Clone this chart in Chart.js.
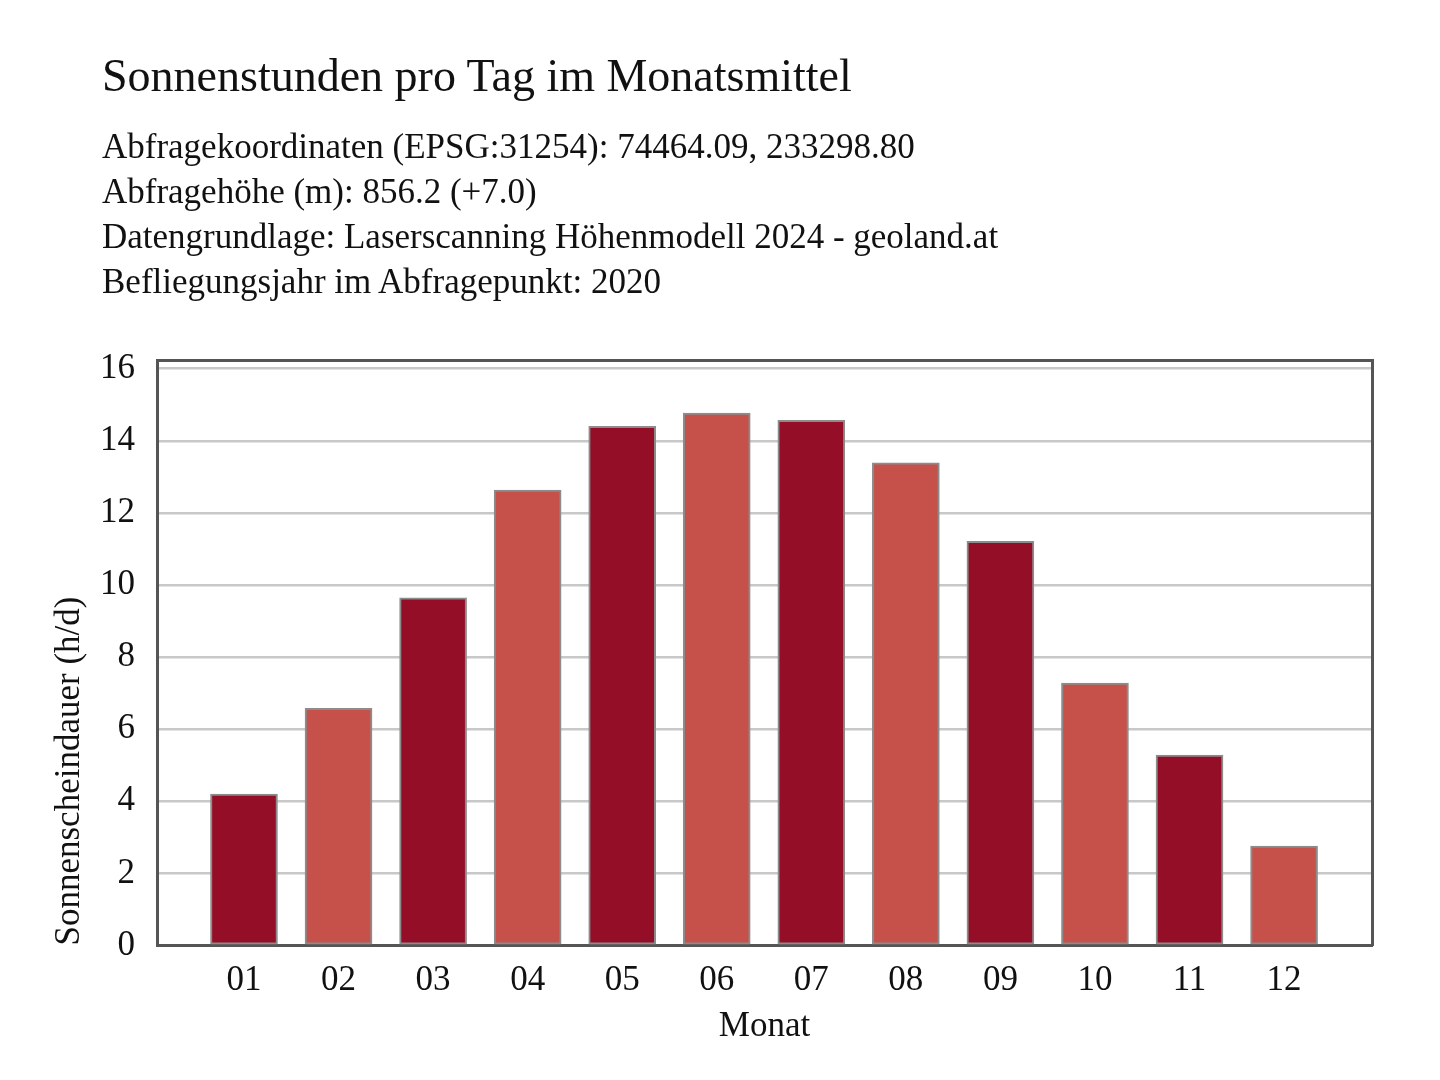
<!DOCTYPE html>
<html>
<head>
<meta charset="utf-8">
<script src="https://cdn.jsdelivr.net/npm/chart.js@4.4.1/dist/chart.umd.min.js"></script>
<style>
  body { margin: 0; background: #fff; }
  #wrap { position: relative; width: 1440px; height: 1080px; }
  #title { position: absolute; left: 102px; top: 53px; font: 46px/46px "Liberation Serif", serif; color: #111; }
  #sub { position: absolute; left: 102px; top: 124px; font: 35px/45px "Liberation Serif", serif; color: #111; }
  canvas { position: absolute; left: 0; top: 0; }
</style>
</head>
<body>
<div id="wrap">
  <canvas id="myChart" width="1440" height="1080"></canvas>
  <div id="title">Sonnenstunden pro Tag im Monatsmittel</div>
  <div id="sub">
    Abfragekoordinaten (EPSG:31254): 74464.09, 233298.80<br>
    Abfragehöhe (m): 856.2 (+7.0)<br>
    Datengrundlage: Laserscanning Höhenmodell 2024 - geoland.at<br>
    Befliegungsjahr im Abfragepunkt: 2020
  </div>
</div>
<script>
// monthly mean sunshine hours per day
const months = ["01","02","03","04","05","06","07","08","09","10","11","12"];
const sunHours = [4.20, 6.58, 9.64, 12.63, 14.40, 14.77, 14.57, 13.39, 11.21, 7.28, 5.28, 2.76];
const yTicks = [0, 2, 4, 6, 8, 10, 12, 14, 16];
const barColors = ['#930E26', '#C6514A'];

const serif = "'Liberation Serif', 'Times New Roman', serif";

var ctx = document.getElementById('myChart').getContext('2d');
var myChart = new Chart(ctx, {
    type: 'bar',
    data: {
        datasets: [{
            label: "Sonnenscheindauer",
            data: sunHours.map((v, i) => ({x: i + 1, y: v})),
            backgroundColor: sunHours.map((v, i) => barColors[i % 2]),
            borderColor: '#8c8c8c',
            borderWidth: 2,
            borderSkipped: false,
            barThickness: 67
        }]
    },
    options: {
        responsive: false,
        devicePixelRatio: 1,
        animation: false,
        layout: {
            padding: {left: 49, right: 68, top: 360, bottom: 32}
        },
        plugins: {
            legend: {display: false},
            tooltip: {enabled: false}
        },
        scales: {
            x: {
                type: 'linear',
                offset: false,
                min: 0.08,
                max: 12.93,
                afterBuildTicks: axis => { axis.ticks = months.map((m, i) => ({value: i + 1})); },
                ticks: {
                    callback: value => months[value - 1],
                    padding: 14.5,
                    color: '#111',
                    font: {family: serif, size: 35},
                    maxRotation: 0,
                    autoSkip: false
                },
                grid: {display: false, drawTicks: false},
                border: {display: true, color: '#555', width: 3},
                title: {
                    display: true,
                    text: "Monat",
                    color: '#111',
                    font: {family: serif, size: 35},
                    padding: {top: -10.5, bottom: 0}
                }
            },
            y: {
                min: 0,
                max: 16.24,
                afterBuildTicks: axis => { axis.ticks = yTicks.map(v => ({value: v})); },
                afterFit: axis => { axis.width = 108; },
                ticks: {
                    padding: 22,
                    color: '#111',
                    font: {family: serif, size: 35}
                },
                grid: {color: '#c8c8c8', lineWidth: 2.5, drawTicks: false},
                border: {display: true, color: '#555', width: 3},
                title: {
                    display: true,
                    text: "Sonnenscheindauer (h/d)",
                    align: 'start',
                    color: '#111',
                    font: {family: serif, size: 35},
                    padding: {top: 0, bottom: 0}
                }
            },
            xTop: {
                type: 'linear',
                position: 'top',
                afterFit: axis => { axis.height = 0; },
                ticks: {display: false},
                grid: {display: false, drawTicks: false},
                border: {display: true, color: '#555', width: 3}
            },
            yRight: {
                type: 'linear',
                position: 'right',
                afterFit: axis => { axis.width = 0; },
                ticks: {display: false},
                grid: {display: false, drawTicks: false},
                border: {display: true, color: '#555', width: 3}
            }
        }
    }
});
</script>
</body>
</html>
